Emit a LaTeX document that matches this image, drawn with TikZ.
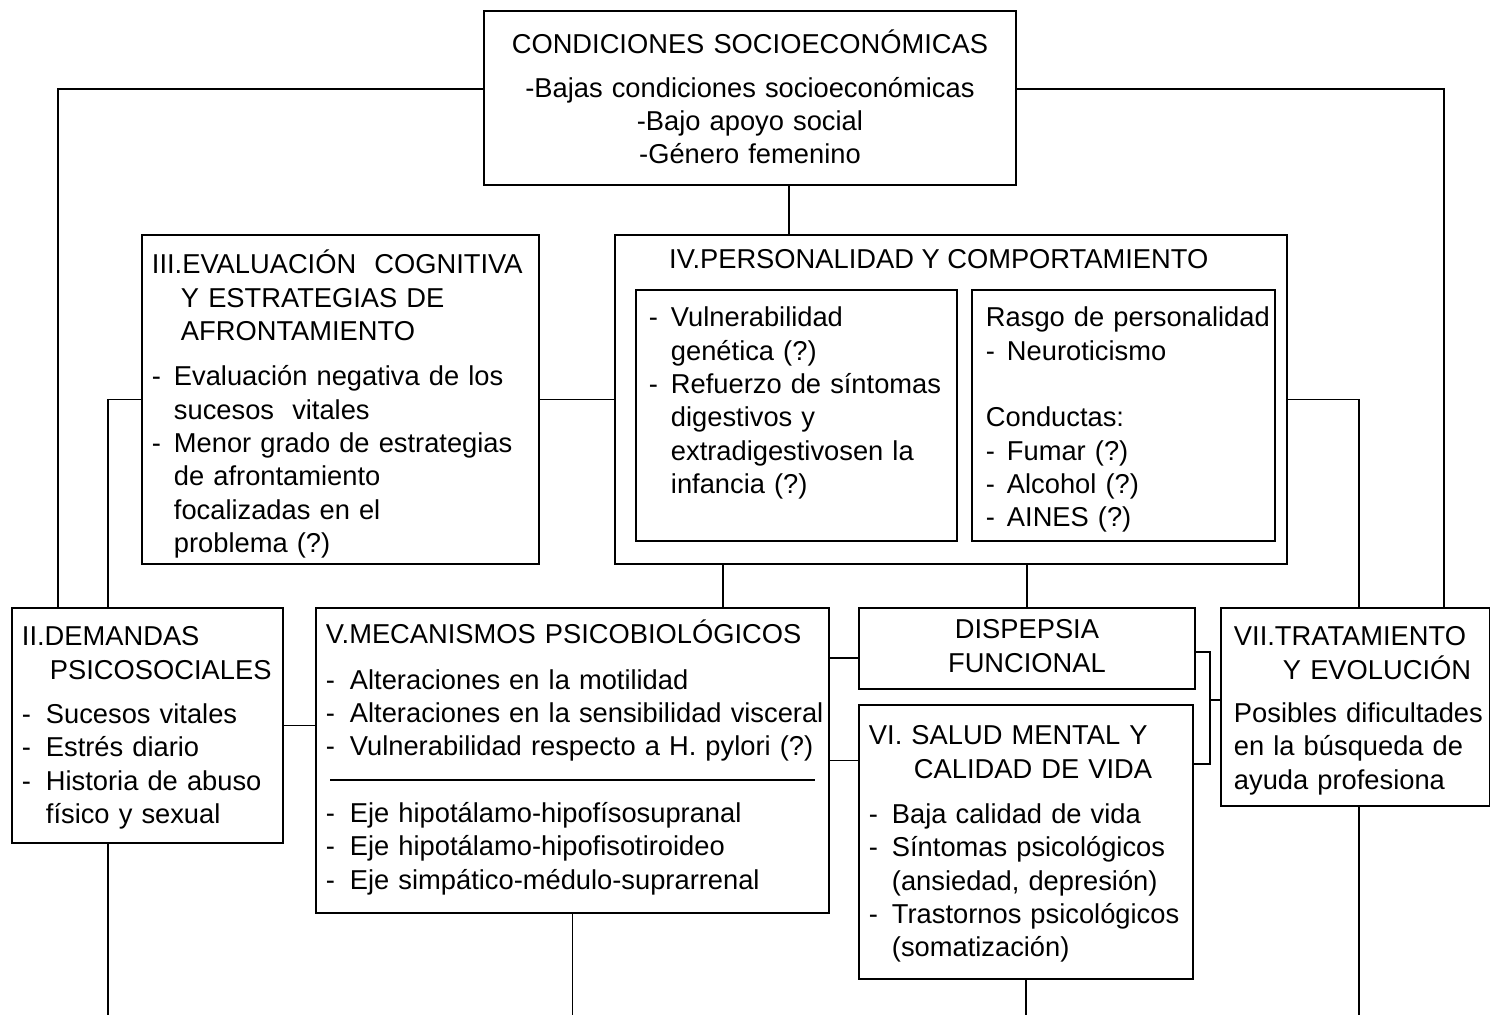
\documentclass[tikz,border=0pt]{standalone}
\usepackage{fontspec}
\setmainfont{Liberation Sans}
\usetikzlibrary{calc}
\newcommand{\letra}{\fontsize{27.3}{33.3}\selectfont}
\newcommand{\guion}[1][22pt]{\makebox[#1][l]{-}}

\begin{document}
\begin{tikzpicture}[x=1pt, y=-1pt,
  linea/.style={line width=1.9pt},
  caja/.style={draw, linea, inner sep=0pt, anchor=north west, align=left, font=\letra,
    execute at begin node={\letra\setlength{\leftskip}{#1}}},
  cajac/.style={draw, linea, inner sep=0pt, anchor=north west, align=center, font=\letra,
    execute at begin node={\letra}},
  marco/.style={draw, linea, inner sep=0pt, anchor=north west},
  titulo/.style={inner sep=0pt, anchor=base west, font=\letra}
]
  \useasboundingbox (0,0) rectangle (1490,1015);

  % Condiciones socioeconomicas
  \node[cajac, text width=532pt, text height=43pt, text depth=131pt] (cond) at (483,10)
    {CONDICIONES SOCIOECONÓMICAS\\[10pt]
     -Bajas condiciones socioeconómicas\\
     -Bajo apoyo social\\
     -Género femenino};

  % III
  \node[caja=10pt, text width=397pt, text height=39pt, text depth=290pt] (eva) at (141,234)
    {III.EVALUACIÓN\ \ COGNITIVA\\
     \hspace*{29pt}Y ESTRATEGIAS DE\\
     \hspace*{29pt}AFRONTAMIENTO\\[12pt]
     \guion Evaluación negativa de los\\
     \hspace*{22pt}sucesos\ \ vitales\\
     \guion Menor grado de estrategias\\
     \hspace*{22pt}de afrontamiento\\
     \hspace*{22pt}focalizadas en el\\
     \hspace*{22pt}problema (?)};

  % IV
  \node[marco, minimum width=672pt, minimum height=329pt] (iv) at (614,234) {};
  \node[titulo] (ivtit) at (669,268) {IV.PERSONALIDAD Y COMPORTAMIENTO};
  \node[caja=13pt, text width=321pt, text height=37pt, text depth=214pt] (gen) at (635,289)
    {\guion Vulnerabilidad\\
     \hspace*{22pt}genética (?)\\
     \guion Refuerzo de síntomas\\
     \hspace*{22pt}digestivos y\\
     \hspace*{22pt}extradigestivosen la\\
     \hspace*{22pt}infancia (?)};
  \node[caja=14pt, text width=303pt, text height=37pt, text depth=214pt] (ras) at (971,289)
    {Rasgo de personalidad\\
     \guion[21pt]Neuroticismo\\[33.3pt]
     Conductas:\\
     \guion[21pt]Fumar (?)\\
     \guion[21pt]Alcohol (?)\\
     \guion[21pt]AINES (?)};

  % II
  \node[caja=10pt, text width=271pt, text height=38pt, text depth=197pt] (dem) at (11,607)
    {II.DEMANDAS\\
     \hspace*{28pt}PSICOSOCIALES\\[11pt]
     \guion[24pt]Sucesos vitales\\
     \guion[24pt]Estrés diario\\
     \guion[24pt]Historia de abuso\\
     \hspace*{24pt}físico y sexual};

  % V
  \node[caja=10pt, text width=513pt, text height=36pt, text depth=269pt] (mec) at (315,607)
    {V.MECANISMOS PSICOBIOLÓGICOS\\[12pt]
     \guion[24pt]Alteraciones en la motilidad\\
     \guion[24pt]Alteraciones en la sensibilidad visceral\\
     \guion[24pt]Vulnerabilidad respecto a H. pylori (?)\\[33.3pt]
     \guion[24pt]Eje hipotálamo-hipofísosupranal\\
     \guion[24pt]Eje hipotálamo-hipofisotiroideo\\
     \guion[24pt]Eje simpático-médulo-suprarrenal};
  \draw[linea] ($(mec.north west)+(15,173)$) -- ($(mec.north east)+(-15,173)$);

  % Dispepsia
  \node[cajac, text width=336pt, text height=31pt, text depth=50pt] (dis) at (858,607)
    {DISPEPSIA\\ FUNCIONAL};

  % VI
  \node[caja=10pt, text width=334pt, text height=40pt, text depth=234pt] (vi) at (858,704)
    {VI. SALUD MENTAL Y\\
     \hspace*{45pt}CALIDAD DE VIDA\\[12pt]
     \guion[23pt]Baja calidad de vida\\
     \guion[23pt]Síntomas psicológicos\\
     \hspace*{23pt}(ansiedad, depresión)\\
     \guion[23pt]Trastornos psicológicos\\
     \hspace*{23pt}(somatización)};

  % VII
  \node[caja=13pt, text width=269pt, text height=38pt, text depth=160pt] (trat) at (1220,607)
    {VII.TRATAMIENTO\\
     \hspace*{49pt}Y EVOLUCIÓN\\[10pt]
     Posibles dificultades\\
     en la búsqueda de\\
     ayuda profesiona};

  % Conexiones
  \draw[linea] ([yshift=9pt]cond.west) -| ([xshift=-89.5pt]dem.north);
  \draw[linea] ([yshift=9pt]cond.east) -| ([xshift=88.5pt]trat.north);
  \draw[linea] ([xshift=39pt]cond.south) -- ([xshift=39pt]cond.south |- iv.north);
  \draw[linea] (eva.east) -- (iv.west);
  \draw[linea] (eva.west) -| ([xshift=-39.5pt]dem.north);
  \draw[linea] (iv.east) -| ([xshift=3.5pt]trat.north);
  \draw[linea] ([xshift=-228pt]iv.south) -- ([xshift=-228pt]iv.south |- mec.north);
  \draw[linea] (iv.south -| dis.north) -- (dis.north);
  \draw[linea] (dem.east) -- (dem.east -| mec.west);
  \draw[linea] ([yshift=-9.5pt]dis.west) -- ([yshift=-9.5pt]dis.west -| mec.east);
  \draw[linea] (mec.east) -- (mec.east -| vi.west);

  % corchete hacia VII
  \coordinate (codo) at ([xshift=14pt]dis.east);
  \draw[linea] ([yshift=-3.5pt]dis.east) -- ([yshift=-3.5pt]dis.east -| codo) |- ([yshift=78pt]vi.east);
  \draw[linea] ([yshift=7pt]trat.west) -- ([yshift=7pt]trat.west -| codo);

  % salidas hacia abajo
  \coordinate (base) at (0,1015);
  \draw[linea] ([xshift=-39.5pt]dem.south) -- ([xshift=-39.5pt]dem.south |- base);
  \draw[linea] (mec.south) -- (mec.south |- base);
  \draw[linea] (vi.south) -- (vi.south |- base);
  \draw[linea] ([xshift=3.5pt]trat.south) -- ([xshift=3.5pt]trat.south |- base);

\end{tikzpicture}
\end{document}
